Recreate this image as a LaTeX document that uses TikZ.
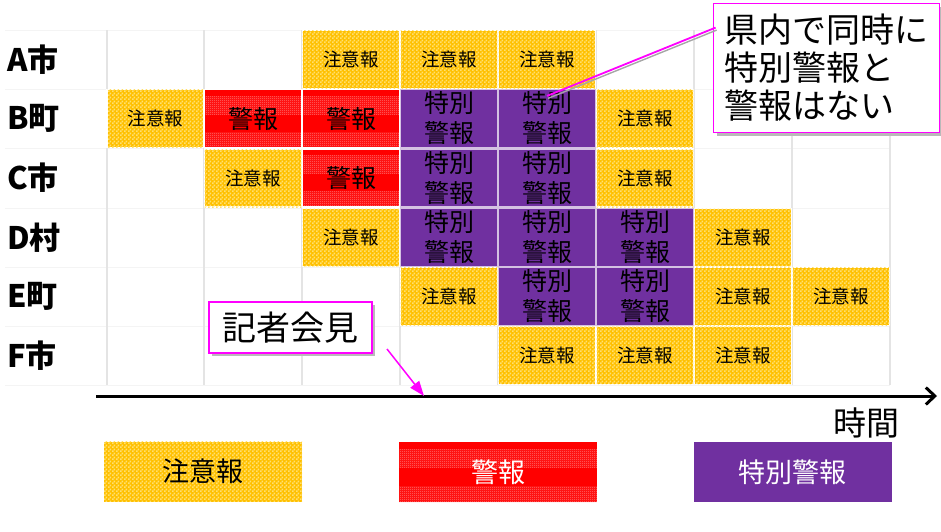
\documentclass[tikz,border=0pt]{standalone}
\usepackage{fontspec}
\setmainfont{Noto Sans CJK JP}
\usetikzlibrary{patterns.meta,calc,shadows,arrows.meta}

\tikzdeclarepattern{
  name=finecheck, type=uncolored,
  bottom left={(0pt,0pt)}, top right={(2pt,2pt)}, tile size={(2pt,2pt)},
  code={\fill (0pt,0pt) rectangle (1pt,1pt); \fill (1pt,1pt) rectangle (2pt,2pt);}
}
\tikzdeclarepattern{
  name=checktwo, type=uncolored,
  bottom left={(0pt,0pt)}, top right={(4pt,4pt)}, tile size={(4pt,4pt)},
  code={\fill (0pt,0pt) rectangle (2pt,2pt); \fill (2pt,2pt) rectangle (4pt,4pt);}
}

\definecolor{yel}{RGB}{255,192,0}
\definecolor{yellt}{RGB}{255,224,112}
\definecolor{kred}{RGB}{255,0,0}
\definecolor{redlt}{RGB}{255,160,160}
\definecolor{purp}{RGB}{112,48,160}
\definecolor{mag}{RGB}{255,0,255}
\definecolor{gridc}{RGB}{228,228,228}
\definecolor{hgrid}{RGB}{244,244,244}

\tikzset{
  cell/.style={minimum width=97pt, minimum height=58pt, inner sep=0pt, draw=white, line width=1.2pt,
    font=\fontsize{18.5}{22}\selectfont},
  chui/.style={cell, fill=yel, postaction={pattern=checktwo, pattern color=yellt}},
  keiho/.style={cell, fill=kred, font=\fontsize{25}{28}\selectfont, path picture={
    \fill[pattern=finecheck, pattern color=redlt]
      ($(path picture bounding box.north west)!0.12!(path picture bounding box.south west)$) rectangle
      ($(path picture bounding box.north east)!0.43!(path picture bounding box.south east)$);
    \fill[pattern=finecheck, pattern color=redlt]
      ($(path picture bounding box.north west)!0.74!(path picture bounding box.south west)$) rectangle
      (path picture bounding box.south east);
  }},
  toku/.style={cell, fill=purp, draw=white!70!purp, align=center, font=\fontsize{25}{30}\selectfont},
  rowlab/.style={anchor=west, inner sep=0pt, font=\fontsize{31}{34}\selectfont\bfseries},
  legbox/.style={minimum width=198pt, minimum height=60pt, inner sep=0pt, font=\fontsize{27}{30}\selectfont},
  callbox/.style={draw=mag, line width=1.8pt, fill=white, inner sep=0pt,
    drop shadow={shadow xshift=3pt, shadow yshift=-3pt, fill=gray!55, opacity=1}},
  gridv/.style={gridc, line width=1.6pt},
  gridh/.style={hgrid, line width=1pt},
}

\begin{document}
\begin{tikzpicture}[x=1pt, y=-1pt]
\useasboundingbox (0,0) rectangle (941,531);

% grid
\foreach \yy in {30,89,148,208,267,326,385} \draw[gridh] (5,\yy) -- (890,\yy);
\foreach \xx in {107,204,302,400,498,596,694,792,890} \draw[gridv] (\xx,30) -- (\xx,385);

% row labels
\node[rowlab] (LA) at (7,59.5) {A市};
\node[rowlab] (LB) at (7,118.5) {B町};
\node[rowlab] (LC) at (7,178) {C市};
\node[rowlab] (LD) at (7,237.5) {D村};
\node[rowlab] (LE) at (7,296.5) {E町};
\node[rowlab] (LF) at (7,355.5) {F市};

% row A
\node[chui] (A3) at (351,59.5) {注意報};
\node[chui] (A4) at (449,59.5) {注意報};
\node[chui] (A5) at (547,59.5) {注意報};
% row B
\node[chui] (B1) at (155.5,118.5) {注意報};
\node[keiho] (B2) at (253,118.5) {警報};
\node[keiho] (B3) at (351,118.5) {警報};
\node[toku] (B4) at (449,118.5) {特別\\警報};
\node[toku] (B5) at (547,118.5) {特別\\警報};
\node[chui] (B6) at (645,118.5) {注意報};
% row C
\node[chui] (C2) at (253,178) {注意報};
\node[keiho] (C3) at (351,178) {警報};
\node[toku] (C4) at (449,178) {特別\\警報};
\node[toku] (C5) at (547,178) {特別\\警報};
\node[chui] (C6) at (645,178) {注意報};
% row D
\node[chui] (D3) at (351,237.5) {注意報};
\node[toku] (D4) at (449,237.5) {特別\\警報};
\node[toku] (D5) at (547,237.5) {特別\\警報};
\node[toku] (D6) at (645,237.5) {特別\\警報};
\node[chui] (D7) at (743,237.5) {注意報};
% row E
\node[chui] (E4) at (449,296.5) {注意報};
\node[toku] (E5) at (547,296.5) {特別\\警報};
\node[toku] (E6) at (645,296.5) {特別\\警報};
\node[chui] (E7) at (743,296.5) {注意報};
\node[chui] (E8) at (841,296.5) {注意報};
% row F
\node[chui] (F5) at (547,355.5) {注意報};
\node[chui] (F6) at (645,355.5) {注意報};
\node[chui] (F7) at (743,355.5) {注意報};

% time axis
\coordinate (ax0) at (96,396);
\coordinate (ax1) at (937,396);
\draw[line width=3pt, -{Straight Barb[length=9pt, width=17pt, line width=3pt]}] (ax0) -- (ax1);
\node[font=\fontsize{33}{36}\selectfont, inner sep=0pt] (jikan) at (866,423) {時間};

% callout
\node[callbox, minimum width=226pt, minimum height=129pt, align=left,
      font=\fontsize{34}{38}\selectfont, text width=204pt] (callout) at (826.5,68)
      {県内で同時に\\特別警報と\\警報はない};
\coordinate (cstart) at ($(callout.north west)+(3,25)$);
\coordinate (cend) at ($(B5.north)+(0,7)$);
\draw[gray!70, line width=1.4pt] ($(cstart)+(1,2.5)$) -- ($(cend)+(1,2.5)$);
\draw[mag, line width=1.8pt] (cstart) -- (cend);

% press conference
\node[callbox, minimum width=163pt, minimum height=51pt,
      font=\fontsize{34}{38}\selectfont] (kaiken) at (290.5,327.5) {記者会見};
\coordinate (kstart) at (387,349);
\coordinate (kend) at (424,396);
\draw[mag, line width=1.5pt, -{Triangle[length=15pt, width=11pt]}] (kstart) -- (kend);

% legend
\node[legbox, fill=yel, postaction={pattern=checktwo, pattern color=yellt}] (legC) at (203,471.5) {注意報};
\node[legbox, keiho, draw=none, minimum width=198pt, minimum height=60pt, font=\fontsize{27}{30}\selectfont, text=white] (legK) at (498,472) {警報};
\node[legbox, fill=purp, text=white] (legT) at (792.5,472) {特別警報};
\end{tikzpicture}
\end{document}
